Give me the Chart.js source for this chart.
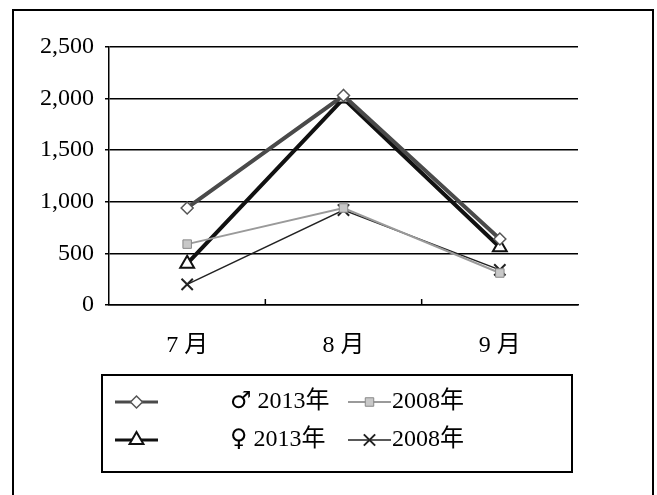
<!DOCTYPE html>
<html>
<head>
<meta charset="utf-8">
<script src="https://cdn.jsdelivr.net/npm/chart.js@4/dist/chart.umd.min.js"></script>
<style>
    body { margin: 0; background: #fff; }
</style>
</head>
<body>
<canvas id="graph" width="657" height="495"></canvas>
<script>
// data
var months = ['7 月', '8 月', '9 月'];
var male2013 = [940, 2030, 640];
var male2008 = [590, 940, 310];
var female2013 = [400, 2000, 560];
var female2008 = [200, 920, 340];
var yTicks = [0, 500, 1000, 1500, 2000, 2500];

var fontFamily = "'Liberation Serif', 'Noto Sans CJK SC', serif";

var datasets = [
    {
        label: '♂ 2013年',
        data: male2013,
        borderColor: '#4a4a4a',
        borderWidth: 4,
        pointStyle: 'rectRot',
        pointRadius: 6,
        pointBackgroundColor: '#fff',
        pointBorderColor: '#555',
        pointBorderWidth: 1.5
    },
    {
        label: '2008年',
        data: male2008,
        borderColor: '#9a9a9a',
        borderWidth: 2,
        pointStyle: 'rect',
        pointRadius: 6,
        pointBackgroundColor: '#c8c8c8',
        pointBorderColor: '#888',
        pointBorderWidth: 1
    },
    {
        label: '♀ 2013年',
        data: female2013,
        borderColor: '#111',
        borderWidth: 4,
        pointStyle: 'triangle',
        pointRadius: 8,
        pointBackgroundColor: '#fff',
        pointBorderColor: '#111',
        pointBorderWidth: 2
    },
    {
        label: '2008年',
        data: female2008,
        borderColor: '#222',
        borderWidth: 1.5,
        pointStyle: 'crossRot',
        pointRadius: 8,
        pointBackgroundColor: '#222',
        pointBorderColor: '#222',
        pointBorderWidth: 2
    }
];

// legend slots: [line start, line end, text x, row y]
var legendSlots = [
    [115, 158, 230, 402],
    [348, 391, 392, 402],
    [115, 158, 230, 440],
    [348, 391, 392, 440]
];

function drawLabel(ctx, text, x, y) {
    var first = text.charAt(0);
    if (first === '♂' || first === '♀') {
        // gender sign is drawn a bit larger, as in the picture
        ctx.font = "24px 'DejaVu Sans'";
        ctx.fillText(first, x, y);
        x += ctx.measureText(first).width;
        text = text.slice(1);
    }
    ctx.font = '24px ' + fontFamily;
    ctx.fillText(text, x, y);
}

var framePlugin = {
    id: 'frame',
    afterDraw: function (chart) {
        var ctx = chart.ctx;
        var area = chart.chartArea;
        var x = chart.scales.x;
        ctx.save();

        // outer border
        ctx.strokeStyle = '#000';
        ctx.lineWidth = 2;
        ctx.strokeRect(13, 10, 640, 500);

        // category boundary ticks pointing up
        ctx.lineWidth = 1.5;
        for (var i = 1; i < months.length; i++) {
            var px = (x.getPixelForTick(i - 1) + x.getPixelForTick(i)) / 2;
            ctx.beginPath();
            ctx.moveTo(px, area.bottom);
            ctx.lineTo(px, area.bottom - 6);
            ctx.stroke();
        }

        // legend box
        ctx.lineWidth = 2;
        ctx.strokeRect(102, 375, 470, 97);

        ctx.textBaseline = 'middle';
        for (var j = 0; j < datasets.length; j++) {
            var ds = datasets[j];
            var s = legendSlots[j];
            ctx.strokeStyle = ds.borderColor;
            ctx.lineWidth = Math.min(ds.borderWidth, 3);
            ctx.beginPath();
            ctx.moveTo(s[0], s[3]);
            ctx.lineTo(s[1], s[3]);
            ctx.stroke();
            ctx.fillStyle = ds.pointBackgroundColor;
            ctx.strokeStyle = ds.pointBorderColor;
            ctx.lineWidth = ds.pointBorderWidth;
            Chart.helpers.drawPoint(ctx, {
                pointStyle: ds.pointStyle,
                radius: ds.pointRadius,
                rotation: 0,
                borderWidth: ds.pointBorderWidth
            }, (s[0] + s[1]) / 2, s[3]);
            ctx.fillStyle = '#000';
            drawLabel(ctx, ds.label, s[2], s[3]);
        }
        ctx.restore();
    }
};

var config = {
    type: 'line',
    data: {
        labels: months,
        datasets: datasets
    },
    options: {
        responsive: false,
        animation: false,
        layout: {
            padding: { left: 0, top: 47, right: 79, bottom: 0 }
        },
        plugins: {
            legend: { display: false },
            tooltip: { enabled: false }
        },
        scales: {
            x: {
                offset: true,
                grid: { display: false },
                border: { display: true, color: '#000', width: 1.5 },
                ticks: {
                    color: '#000',
                    padding: 18,
                    font: { family: fontFamily, size: 24 }
                },
                afterFit: function (scale) {
                    scale.height = 190;
                    scale.paddingLeft = 0;
                    scale.paddingRight = 0;
                }
            },
            y: {
                min: 0,
                max: 2500,
                afterBuildTicks: function (scale) {
                    scale.ticks = yTicks.map(function (v) { return { value: v }; });
                },
                grid: {
                    color: '#000',
                    lineWidth: 1.5,
                    tickLength: 4
                },
                border: { display: true, color: '#000', width: 1.5 },
                ticks: {
                    color: '#000',
                    padding: 11,
                    font: { family: fontFamily, size: 24 },
                    callback: function (v) { return v.toLocaleString('en-US'); }
                },
                afterFit: function (scale) {
                    scale.width = 109;
                    scale.paddingTop = 0;
                    scale.paddingBottom = 0;
                }
            }
        }
    },
    plugins: [framePlugin]
};

new Chart(document.getElementById('graph'), config);
</script>
</body>
</html>
